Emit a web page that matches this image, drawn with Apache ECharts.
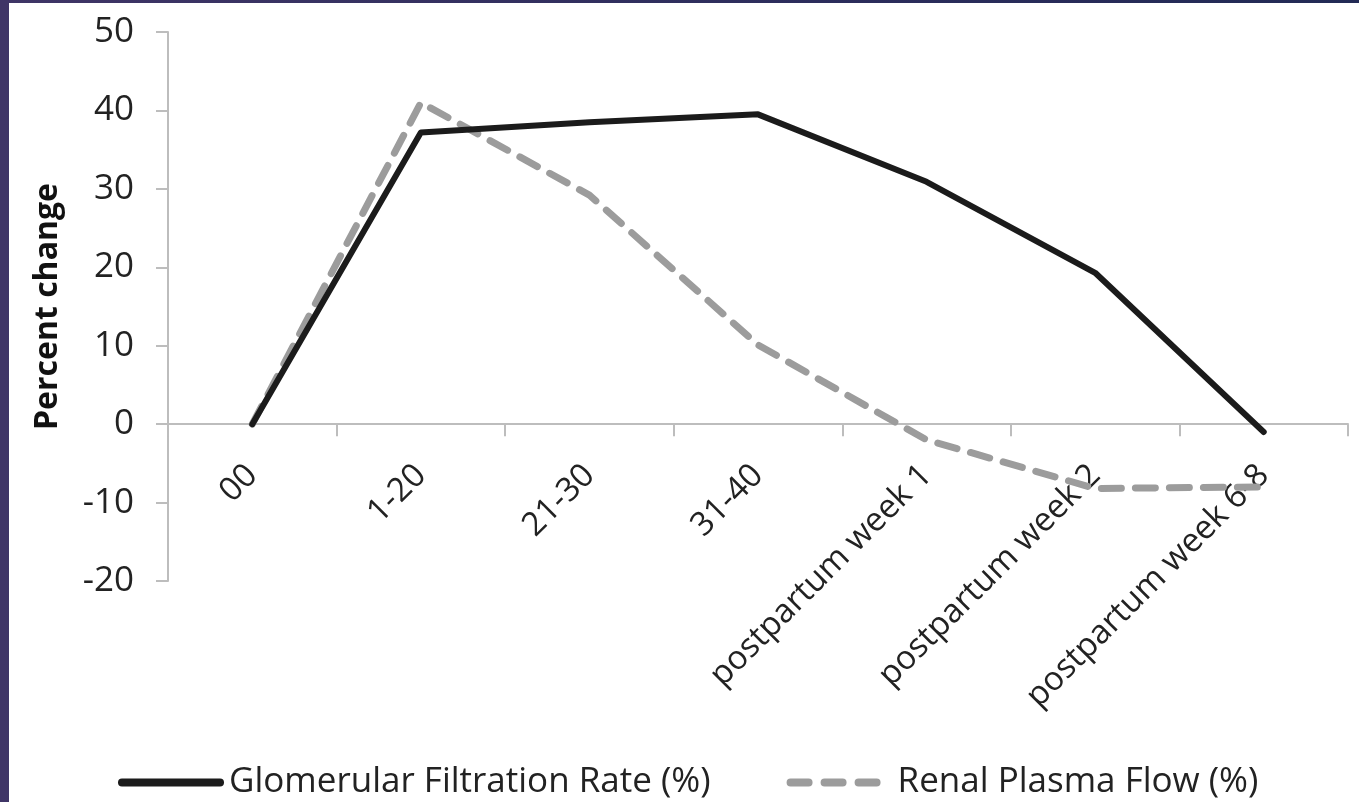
<!DOCTYPE html>
<html>
<head>
<meta charset="utf-8">
<script src="https://cdn.jsdelivr.net/npm/echarts@6/dist/echarts.min.js"></script>
<style>
  html, body { margin: 0; padding: 0; }
  body {
    width: 1359px; height: 802px; overflow: hidden;
    background: linear-gradient(90deg, #3f3566 0%, #2c2d5c 60%, #222a55 100%);
    position: relative;
  }
  #chart {
    position: absolute; left: 9px; top: 3px;
    width: 1350px; height: 799px; background: #fff;
  }
</style>
</head>
<body>
<div id="chart"></div>
<script>
// categories (gestational weeks / postpartum)
const categories = ['00', '1-20', '21-30', '31-40', 'postpartum week 1', 'postpartum week 2', 'postpartum week 6-8']
// percent change values
const gfrValues = [0, 37.2, 38.5, 39.5, 30.9, 19.3, -1]
const rpfValues = [0, 41, 29.2, 10.1, -2, -8.2, -8]
const seriesNames = ['Glomerular Filtration Rate (%)', 'Renal Plasma Flow (%)']
const yMin = -20
const yMax = 50

const myChart = echarts.init(document.getElementById('chart'))
const axisGray = '#bdbdbd'
const fontFam = '"Open Sans", "DejaVu Sans", sans-serif'

const gridTop = 29
const gridBottom = 221
// put the category axis on the zero line (line, ticks and labels together)
const plotH = 799 - gridTop - gridBottom
const zeroOffset = -plotH * (0 - yMin) / (yMax - yMin)

// legend icons
const solidIcon = 'path://M4,0 h98 a4,4 0 0 1 0,8 h-98 a4,4 0 0 1 0,-8 z'
const dashIcon = 'path://M4,0 h18 a4,4 0 0 1 0,8 h-18 a4,4 0 0 1 0,-8 z' +
  ' M38,0 h18 a4,4 0 0 1 0,8 h-18 a4,4 0 0 1 0,-8 z' +
  ' M72,0 h18 a4,4 0 0 1 0,8 h-18 a4,4 0 0 1 0,-8 z M106,4'

let option = {
  animation: false,
  backgroundColor: '#fff',
  grid: {
    left: 159,
    right: 11,
    top: gridTop,
    bottom: gridBottom,
    containLabel: false
  },
  legend: {
    left: 104,
    top: 757,
    itemWidth: 106,
    itemHeight: 9,
    itemGap: 76,
    textStyle: {
      fontSize: 35,
      fontFamily: fontFam,
      color: '#222'
    },
    data: [
      { name: seriesNames[0], icon: solidIcon },
      { name: seriesNames[1], icon: dashIcon }
    ]
  },
  xAxis: {
    type: 'category',
    data: categories,
    boundaryGap: true,
    offset: zeroOffset,
    axisLine: { onZero: false, lineStyle: { color: axisGray, width: 2 } },
    axisTick: { show: true, length: 12, lineStyle: { color: axisGray, width: 2 } },
    axisLabel: {
      interval: 0,
      rotate: 45,
      margin: 46,
      fontSize: 33,
      fontFamily: fontFam,
      color: '#222'
    },
    splitLine: { show: false }
  },
  yAxis: {
    type: 'value',
    min: yMin,
    max: yMax,
    interval: 10,
    name: 'Percent change',
    nameLocation: 'middle',
    nameGap: 104,
    nameTextStyle: {
      fontSize: 32,
      fontWeight: 'bold',
      fontFamily: fontFam,
      color: '#111'
    },
    axisLine: { show: true, lineStyle: { color: axisGray, width: 2 } },
    axisTick: { show: true, length: 12, lineStyle: { color: axisGray, width: 2 } },
    axisLabel: {
      margin: 34,
      fontSize: 35,
      fontFamily: fontFam,
      color: '#222'
    },
    splitLine: { show: false }
  },
  series: [
    {
      name: seriesNames[0],
      type: 'line',
      data: gfrValues,
      symbol: 'none',
      z: 3,
      itemStyle: { color: '#1b1b1b' },
      lineStyle: { color: '#1b1b1b', width: 6, cap: 'round', join: 'round' }
    },
    {
      name: seriesNames[1],
      type: 'line',
      data: rpfValues,
      symbol: 'none',
      z: 2,
      itemStyle: { color: '#9c9c9c' },
      lineStyle: {
        color: '#9c9c9c',
        width: 7,
        type: [20, 14],
        cap: 'round',
        join: 'round'
      }
    }
  ]
}

option && myChart.setOption(option)
</script>
</body>
</html>
